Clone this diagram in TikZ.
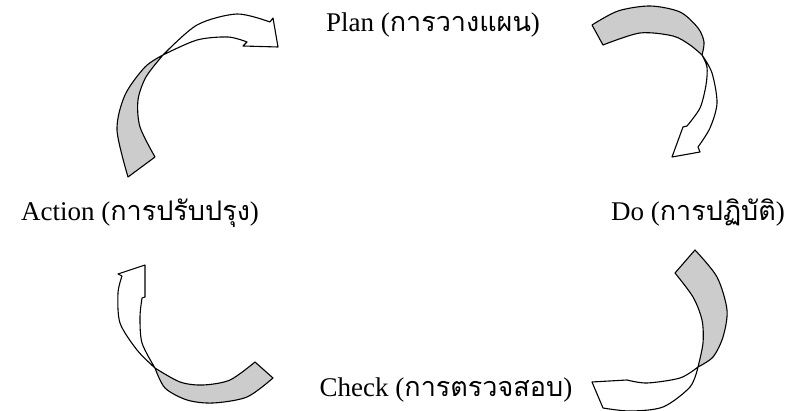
\documentclass[tikz,border=0pt]{standalone}
\usepackage{fontspec}
\setmainfont{Liberation Serif}
\newfontfamily\thaifont[Script=Thai]{Loma}

\begin{document}
\begin{tikzpicture}[x=1pt, y=-1pt,
 back/.style={fill=black!20, draw=black, line width=1.1pt, line join=round},
 front/.style={fill=white, draw=black, line width=1.1pt, line join=round},
 lbl/.style={font=\fontsize{27}{30}\selectfont, inner sep=0pt}]
\useasboundingbox (0,0) rectangle (785,411);
\clip (0,0) rectangle (785,411);
\node[lbl] (plan)   at (433,25)  {Plan ({\thaifont การวางแผน})};
\node[lbl, anchor=east] (do) at (785,213) {Do ({\thaifont การปฏิบัติ})};
\node[lbl] (check)  at (446,390) {Check ({\thaifont การตรวจสอบ})};
\node[lbl] (action) at (140,213) {Action ({\thaifont การปรับปรุง})};
% action -> plan
\draw[back] (128,177) -- plot[smooth] coordinates {(155,157) (140,127) (138,100) (146,77) (163,55)}
 -- plot[smooth] coordinates {(163,55) (145,67) (125,95) (117,130) (128,177)} -- cycle;
\draw[front] (163,55) -- plot[smooth] coordinates {(163,55) (197,25) (237,14) (270,22)}
 -- (273,18) -- (278,47) -- (243,46) -- (247,42)
 -- plot[smooth] coordinates {(247,42) (228,37) (197,40) (163,55)} -- cycle;
% plan -> do
\draw[back] (592,25) -- plot[smooth] coordinates {(603,45) (640,33) (673,36) (690,45) (702,55)}
 -- plot[smooth] coordinates {(702,55) (704,42) (698,28) (680,12) (650,6) (618,11) (592,25)} -- cycle;
\draw[front] (702,55) -- plot[smooth] coordinates {(702,55) (712,73) (717,103) (710,128) (698,147)}
 -- (700,152) -- (672,157) -- (683,127) -- (687,126)
 -- plot[smooth] coordinates {(687,126) (700,108) (706,85) (707,67) (702,55)} -- cycle;
% do -> check
\draw[back] (675,273) -- plot[smooth] coordinates {(695,250) (717,277) (727,310) (723,337) (713,357) (698,367)}
 -- plot[smooth] coordinates {(698,367) (703,343) (702,320) (693,297) (675,273)} -- cycle;
\draw[front] (698,367) -- plot[smooth] coordinates {(698,367) (680,378) (647,383) (627,380)}
 -- (592,382) -- (603,408)
 -- plot[smooth] coordinates {(603,408) (630,411) (663,407) (690,387) (698,367)} -- cycle;
% check -> action
\draw[back] (255,362) -- plot[smooth] coordinates {(273,378) (247,397) (213,403) (187,400) (165,388) (155,368)}
 -- plot[smooth] coordinates {(155,368) (180,382) (203,385) (230,380) (255,362)} -- cycle;
\draw[front] (155,368) -- plot[smooth] coordinates {(155,368) (137,350) (120,323) (118,293) (122,276)}
 -- (118,274) -- (145,265) -- (145,297) -- (142,298)
 -- plot[smooth] coordinates {(142,298) (140,317) (142,343) (155,368)} -- cycle;
\end{tikzpicture}
\end{document}
